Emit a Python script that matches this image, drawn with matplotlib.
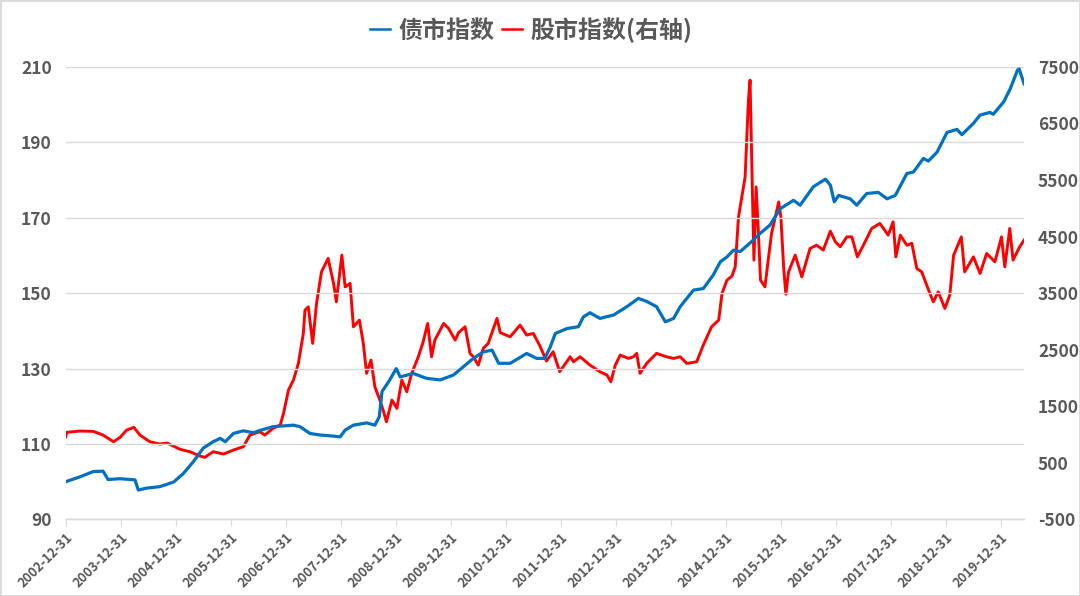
import matplotlib
matplotlib.use("Agg")
import matplotlib.pyplot as plt
from matplotlib.lines import Line2D
from matplotlib.patches import Rectangle

plt.rcParams['font.family'] = ['Noto Sans CJK SC', 'DejaVu Sans']
plt.rcParams['axes.unicode_minus'] = False

# ---- data (decimal-year time) ----
bond_t = [2003.00, 2003.26, 2003.50, 2003.68, 2003.77, 2003.99, 2004.26, 2004.32, 2004.47, 2004.71,
          2004.96, 2005.14, 2005.32, 2005.50, 2005.68, 2005.81, 2005.90, 2006.05, 2006.23, 2006.41,
          2006.53, 2006.77, 2007.14, 2007.26, 2007.44, 2007.62, 2007.87, 2007.99, 2008.08, 2008.23,
          2008.47, 2008.62, 2008.70, 2008.75, 2008.87, 2009.01, 2009.08, 2009.32, 2009.56, 2009.81,
          2010.05, 2010.23, 2010.41, 2010.59, 2010.75, 2010.87, 2011.08, 2011.38, 2011.56, 2011.71,
          2011.81, 2011.90, 2012.11, 2012.32, 2012.41, 2012.53, 2012.71, 2012.96, 2013.20, 2013.41,
          2013.56, 2013.74, 2013.90, 2014.05, 2014.17, 2014.41, 2014.59, 2014.77, 2014.90, 2015.02,
          2015.14, 2015.26, 2015.44, 2015.62, 2015.80, 2015.99, 2016.23, 2016.35, 2016.59, 2016.81,
          2016.90, 2016.97, 2017.05, 2017.26, 2017.38, 2017.56, 2017.77, 2017.93, 2018.08, 2018.29,
          2018.41, 2018.59, 2018.68, 2018.84, 2019.02, 2019.20, 2019.29, 2019.50, 2019.62, 2019.80,
          2019.86, 2020.05, 2020.17, 2020.30, 2020.33, 2020.42]
bond_v = [100.0, 101.3, 102.7, 102.8, 100.6, 100.8, 100.5, 97.8, 98.3, 98.7,
          99.9, 102.2, 105.3, 108.9, 110.6, 111.5, 110.6, 112.8, 113.5, 113.0,
          113.6, 114.6, 115.0, 114.6, 112.8, 112.4, 112.1, 111.9, 113.7, 115.0,
          115.6, 115.0, 117.2, 123.9, 126.5, 130.0, 127.8, 128.7, 127.4, 127.0,
          128.3, 130.5, 132.7, 134.4, 134.9, 131.4, 131.4, 134.0, 132.7, 132.7,
          135.8, 139.3, 140.6, 141.1, 143.7, 144.8, 143.3, 144.2, 146.4, 148.6,
          147.8, 146.4, 142.4, 143.3, 146.4, 150.8, 151.2, 154.8, 158.3, 159.6,
          161.4, 161.0, 163.3, 165.8, 168.0, 172.4, 174.6, 173.3, 178.2, 180.2,
          178.6, 174.2, 175.9, 175.0, 173.3, 176.4, 176.7, 175.0, 175.9, 181.7,
          182.1, 185.7, 185.0, 187.4, 192.6, 193.4, 192.0, 195.0, 197.2, 197.9,
          197.4, 200.7, 204.2, 209.1, 209.4, 205.5]

stock_t = [2003.00, 2003.02, 2003.26, 2003.50, 2003.68, 2003.87, 2003.99, 2004.11, 2004.24, 2004.35,
           2004.53, 2004.71, 2004.84, 2005.08, 2005.26, 2005.44, 2005.53, 2005.68, 2005.87, 2006.05,
           2006.23, 2006.35, 2006.53, 2006.62, 2006.77, 2006.90, 2006.96, 2007.05, 2007.14, 2007.23,
           2007.32, 2007.35, 2007.41, 2007.49, 2007.56, 2007.65, 2007.77, 2007.87, 2007.92, 2008.02,
           2008.08, 2008.17, 2008.23, 2008.34, 2008.41, 2008.47, 2008.55, 2008.62, 2008.71, 2008.77,
           2008.83, 2008.93, 2009.02, 2009.11, 2009.20, 2009.29, 2009.41, 2009.49, 2009.58, 2009.65,
           2009.71, 2009.87, 2009.96, 2010.08, 2010.14, 2010.26, 2010.35, 2010.41, 2010.50, 2010.59,
           2010.68, 2010.84, 2010.90, 2011.08, 2011.26, 2011.38, 2011.50, 2011.62, 2011.74, 2011.86,
           2011.98, 2012.17, 2012.23, 2012.35, 2012.53, 2012.71, 2012.84, 2012.91, 2012.99, 2013.08,
           2013.23, 2013.32, 2013.38, 2013.44, 2013.56, 2013.74, 2013.92, 2014.05, 2014.17, 2014.29,
           2014.47, 2014.59, 2014.74, 2014.87, 2014.93, 2015.02, 2015.11, 2015.17, 2015.23, 2015.29,
           2015.35, 2015.41, 2015.44, 2015.47, 2015.51, 2015.55, 2015.59, 2015.63, 2015.71, 2015.77,
           2015.83, 2015.90, 2015.96, 2016.00, 2016.05, 2016.09, 2016.14, 2016.26, 2016.38, 2016.53,
           2016.65, 2016.77, 2016.90, 2016.99, 2017.08, 2017.20, 2017.29, 2017.39, 2017.50, 2017.65,
           2017.80, 2017.95, 2018.04, 2018.09, 2018.17, 2018.29, 2018.38, 2018.47, 2018.56, 2018.65,
           2018.77, 2018.86, 2018.98, 2019.07, 2019.14, 2019.28, 2019.34, 2019.50, 2019.62, 2019.74,
           2019.89, 2020.01, 2020.07, 2020.16, 2020.22, 2020.34, 2020.42]
stock_v = [960, 1040, 1063, 1057, 992, 874, 952, 1081, 1128, 992,
           874, 833, 851, 740, 697, 621, 598, 697, 657, 727,
           786, 992, 1051, 992, 1111, 1169, 1375, 1787, 1964, 2258,
           2788, 3200, 3258, 2612, 3318, 3876, 4113, 3671, 3346, 4171,
           3611, 3671, 2905, 3023, 2612, 2082, 2317, 1845, 1610, 1434,
           1227, 1610, 1464, 1964, 1757, 2082, 2375, 2612, 2964, 2375,
           2670, 2964, 2876, 2670, 2800, 2905, 2435, 2375, 2228, 2523,
           2612, 3053, 2800, 2729, 2935, 2758, 2788, 2567, 2300, 2464,
           2111, 2375, 2287, 2375, 2228, 2111, 2052, 1934, 2228, 2405,
           2346, 2375, 2435, 2082, 2258, 2435, 2375, 2346, 2375, 2258,
           2287, 2582, 2905, 3023, 3495, 3729, 3800, 3964, 4847, 5200,
           5554, 6909, 7262, 5849, 4083, 5377, 4600, 3729, 3611, 4083,
           4554, 4847, 5112, 4847, 3964, 3480, 3876, 4171, 3788, 4289,
           4347, 4260, 4595, 4406, 4320, 4494, 4494, 4141, 4347, 4642,
           4731, 4524, 4759, 4141, 4524, 4347, 4380, 3936, 3876, 3641,
           3346, 3523, 3230, 3464, 4171, 4494, 3876, 4141, 3847, 4200,
           4053, 4494, 3964, 4642, 4083, 4318, 4436]

year_ticks = [2003 + i for i in range(18)]
year_labels = [f"{2002 + i}-12-31" for i in range(18)]
left_ticks = [90, 110, 130, 150, 170, 190, 210]
right_ticks = [-500, 500, 1500, 2500, 3500, 4500, 5500, 6500, 7500]

series_names = ["债市指数", "股市指数(右轴)"]
bond_color = "#0070C0"
stock_color = "#FF0000"
text_color = "#595959"
grid_color = "#D9D9D9"

fig = plt.figure(figsize=(10.8, 5.96), dpi=100)
ax = fig.add_axes([0.0608, 0.1284, 0.8874, 0.7596])
ax2 = ax.twinx()

ax.plot(bond_t, bond_v, color=bond_color, lw=2.3, zorder=3, solid_joinstyle='round')
ax2.plot(stock_t, stock_v, color=stock_color, lw=2.1, zorder=3, solid_joinstyle='round')
ax.set_zorder(ax2.get_zorder() + 1)
ax.patch.set_visible(False)

ax.set_xlim(2003.0, 2020.42)
ax.set_ylim(90, 210)
ax2.set_ylim(-500, 7500)
ax.set_yticks(left_ticks)
ax2.set_yticks(right_ticks)
ax.set_xticks(year_ticks)
ax.set_xticklabels(year_labels, rotation=45, ha='right', rotation_mode='anchor',
                   fontsize=9.3, fontweight='bold', color=text_color)
ax.grid(axis='y', color=grid_color, lw=1.0)
ax.set_axisbelow(True)

for a in (ax, ax2):
    for s in ('top', 'left', 'right'):
        a.spines[s].set_visible(False)
    a.spines['bottom'].set_color(grid_color)
    a.spines['bottom'].set_linewidth(1.0)

ax.tick_params(axis='y', length=0, pad=10, labelsize=12.5, labelcolor=text_color)
ax2.tick_params(axis='y', length=0, pad=10, labelsize=12.5, labelcolor=text_color)
ax.tick_params(axis='x', length=5, color=grid_color, pad=3)
for lab in ax.get_yticklabels() + ax2.get_yticklabels():
    lab.set_fontweight('bold')

handles = [Line2D([], [], color=bond_color, lw=1.8),
           Line2D([], [], color=stock_color, lw=1.8)]
leg = fig.legend(handles, series_names, loc='center', bbox_to_anchor=(0.492, 0.95),
                 ncol=2, frameon=False, handlelength=0.85, handletextpad=0.35,
                 columnspacing=0.3, borderpad=0, prop={'size': 17.3, 'weight': 'bold'})
for t in leg.get_texts():
    t.set_color(text_color)

fig.patches.append(Rectangle((0, 0), 1, 1, transform=fig.transFigure, fill=False,
                             edgecolor="#D9D9D9", lw=2))

fig.savefig("out.png", dpi=100)
